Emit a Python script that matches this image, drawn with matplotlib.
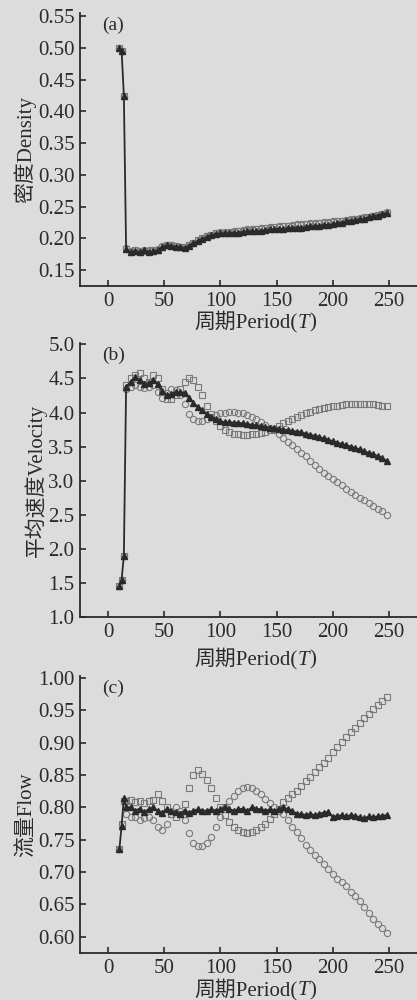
from matplotlib import pyplot as plt
from matplotlib.offsetbox import TextArea, HPacker, AnchoredOffsetbox
import numpy as np

# periods: first few steps, then every 4 periods
periods = [10, 12, 14] + list(range(16, 251, 4))

# (a) density
density_tri = [0.500, 0.495, 0.425,
               0.183, 0.178, 0.180, 0.178, 0.181, 0.179, 0.180, 0.181, 0.186, 0.189,
               0.188, 0.187, 0.186, 0.185, 0.188, 0.192, 0.196, 0.199, 0.202, 0.205,
               0.207, 0.208, 0.208, 0.208, 0.209, 0.209, 0.210, 0.211, 0.211, 0.211,
               0.212, 0.213, 0.214, 0.214, 0.215, 0.215, 0.216, 0.216, 0.217, 0.217,
               0.218, 0.219, 0.219, 0.220, 0.221, 0.221, 0.222, 0.224, 0.225, 0.227,
               0.228, 0.229, 0.230, 0.231, 0.233, 0.235, 0.236, 0.238, 0.240]
density_sq = [0.500, 0.495, 0.425,
              0.184, 0.179, 0.181, 0.179, 0.180, 0.180, 0.181, 0.182, 0.187, 0.190,
              0.189, 0.188, 0.186, 0.186, 0.189, 0.193, 0.197, 0.200, 0.203, 0.206,
              0.208, 0.209, 0.209, 0.209, 0.210, 0.211, 0.212, 0.213, 0.213, 0.214,
              0.215, 0.216, 0.217, 0.218, 0.218, 0.219, 0.219, 0.220, 0.221, 0.221,
              0.222, 0.223, 0.223, 0.224, 0.225, 0.225, 0.226, 0.227, 0.227, 0.228,
              0.229, 0.230, 0.231, 0.232, 0.234, 0.235, 0.237, 0.238, 0.240]
density_ci = [0.500, 0.495, 0.425,
              0.185, 0.180, 0.182, 0.180, 0.182, 0.181, 0.182, 0.183, 0.188, 0.190,
              0.190, 0.188, 0.187, 0.186, 0.189, 0.193, 0.197, 0.200, 0.203, 0.206,
              0.208, 0.210, 0.210, 0.210, 0.211, 0.212, 0.213, 0.214, 0.214, 0.215,
              0.216, 0.217, 0.218, 0.218, 0.219, 0.220, 0.220, 0.221, 0.222, 0.222,
              0.223, 0.224, 0.224, 0.225, 0.226, 0.226, 0.227, 0.227, 0.228, 0.229,
              0.230, 0.231, 0.232, 0.233, 0.234, 0.236, 0.237, 0.239, 0.241]

# (b) mean velocity
velocity_tri = [1.45, 1.55, 1.90,
                4.38, 4.45, 4.52, 4.47, 4.42, 4.43, 4.47, 4.42, 4.32, 4.25,
                4.27, 4.30, 4.30, 4.29, 4.22, 4.14, 4.08, 4.03, 3.98, 3.94,
                3.90, 3.87, 3.86, 3.86, 3.85, 3.85, 3.84, 3.83, 3.82, 3.81,
                3.80, 3.79, 3.78, 3.77, 3.76, 3.75, 3.74, 3.73, 3.72, 3.71,
                3.69, 3.67, 3.66, 3.64, 3.62, 3.60, 3.58, 3.56, 3.54, 3.52,
                3.50, 3.48, 3.46, 3.43, 3.41, 3.39, 3.36, 3.33, 3.29]
velocity_sq = [1.45, 1.55, 1.90,
               4.40, 4.50, 4.55, 4.58, 4.50, 4.45, 4.55, 4.50, 4.35, 4.20,
               4.20, 4.25, 4.35, 4.45, 4.50, 4.47, 4.38, 4.25, 4.10, 3.98,
               3.88, 3.80, 3.75, 3.71, 3.69, 3.68, 3.67, 3.67, 3.68, 3.69,
               3.70, 3.72, 3.74, 3.76, 3.80, 3.84, 3.87, 3.90, 3.93, 3.96,
               3.99, 4.01, 4.03, 4.05, 4.07, 4.08, 4.09, 4.10, 4.11, 4.12,
               4.12, 4.13, 4.13, 4.13, 4.12, 4.12, 4.11, 4.10, 4.09]
velocity_ci = [1.45, 1.55, 1.90,
               4.35, 4.38, 4.40, 4.38, 4.36, 4.38, 4.40, 4.30, 4.22, 4.28,
               4.35, 4.33, 4.25, 4.12, 3.98, 3.90, 3.87, 3.87, 3.90, 3.93,
               3.96, 3.99, 4.00, 4.01, 4.01, 4.00, 3.99, 3.97, 3.94, 3.90,
               3.86, 3.82, 3.78, 3.74, 3.68, 3.62, 3.57, 3.52, 3.47, 3.41,
               3.36, 3.29, 3.23, 3.17, 3.12, 3.07, 3.02, 2.98, 2.93, 2.88,
               2.84, 2.79, 2.75, 2.71, 2.67, 2.63, 2.59, 2.55, 2.50]

# (c) flow
flow_tri = [0.735, 0.772, 0.815,
            0.800, 0.800, 0.795, 0.798, 0.793, 0.797, 0.800, 0.795, 0.792, 0.797,
            0.795, 0.793, 0.790, 0.795, 0.792, 0.795, 0.797, 0.795, 0.795, 0.797,
            0.795, 0.797, 0.800, 0.797, 0.795, 0.797, 0.798, 0.795, 0.800, 0.798,
            0.797, 0.795, 0.797, 0.795, 0.797, 0.800, 0.797, 0.795, 0.790, 0.790,
            0.788, 0.790, 0.788, 0.790, 0.792, 0.793, 0.785, 0.787, 0.788, 0.786,
            0.788, 0.787, 0.785, 0.783, 0.786, 0.785, 0.786, 0.787, 0.788]
flow_sq = [0.735, 0.775, 0.810,
           0.810, 0.812, 0.808, 0.810, 0.806, 0.810, 0.812, 0.820, 0.810, 0.800,
           0.790, 0.785, 0.790, 0.805, 0.830, 0.850, 0.857, 0.852, 0.843, 0.830,
           0.815, 0.800, 0.788, 0.777, 0.770, 0.765, 0.762, 0.760, 0.762, 0.765,
           0.770, 0.775, 0.782, 0.790, 0.798, 0.808, 0.815, 0.820, 0.826, 0.833,
           0.840, 0.847, 0.854, 0.862, 0.869, 0.877, 0.885, 0.893, 0.901, 0.908,
           0.916, 0.923, 0.930, 0.938, 0.945, 0.952, 0.958, 0.964, 0.970]
flow_ci = [0.735, 0.775, 0.810,
           0.790, 0.785, 0.785, 0.780, 0.783, 0.785, 0.780, 0.770, 0.765, 0.775,
           0.790, 0.800, 0.795, 0.780, 0.760, 0.745, 0.740, 0.740, 0.745, 0.755,
           0.770, 0.785, 0.800, 0.810, 0.818, 0.825, 0.830, 0.832, 0.830, 0.826,
           0.820, 0.813, 0.806, 0.800, 0.795, 0.790, 0.780, 0.770, 0.762, 0.752,
           0.742, 0.734, 0.727, 0.720, 0.713, 0.705, 0.697, 0.690, 0.684, 0.678,
           0.670, 0.663, 0.655, 0.646, 0.637, 0.628, 0.620, 0.613, 0.606]

panels = [
    ('(a)', '密度Density', density_tri, density_sq, density_ci,
     (0.125, 0.555), np.arange(0.15, 0.551, 0.05), '{:.2f}'),
    ('(b)', '平均速度Velocity', velocity_tri, velocity_sq, velocity_ci,
     (1.0, 5.02), np.arange(1.0, 5.01, 0.5), '{:.1f}'),
    ('(c)', '流量Flow', flow_tri, flow_sq, flow_ci,
     (0.575, 1.003), np.arange(0.60, 1.001, 0.05), '{:.2f}'),
]

fams = ['Liberation Serif', 'Noto Sans CJK SC']
plt.rcParams['font.family'] = fams

bg = '#dcdcdc'
ink = '#2a2a2a'
grey = '#7a7a7a'

fig = plt.figure(figsize=(4.17, 10), dpi=100, facecolor=bg)
rects = [[0.192, 0.714, 0.808, 0.273],
         [0.192, 0.383, 0.808, 0.274],
         [0.192, 0.047, 0.808, 0.277]]
label_drop = [-0.09, -0.112, -0.092]

for rect, drop, (tag, ylab, tri, sq, ci, ylim, yticks, fmt) in zip(rects, label_drop, panels):
    ax = fig.add_axes(rect)
    ax.set_facecolor(bg)
    ax.plot(periods, sq, ls='none', marker='s', ms=4.5, mfc='none',
            mec=grey, mew=0.8)
    ax.plot(periods, ci, ls='none', marker='o', ms=4.5, mfc='none',
            mec=grey, mew=0.8)
    ax.plot(periods, tri, color=ink, lw=1.3, marker='^', ms=5,
            mfc=ink, mec=ink)
    ax.set_xlim(-25, 275)
    ax.set_ylim(*ylim)
    ax.set_xticks([0, 50, 100, 150, 200, 250])
    ax.set_yticks(yticks)
    ax.set_yticklabels([fmt.format(v) for v in yticks])
    for s in ['top', 'right']:
        ax.spines[s].set_visible(False)
    for s in ['left', 'bottom']:
        ax.spines[s].set_linewidth(1.3)
        ax.spines[s].set_color(ink)
    ax.tick_params(direction='in', length=4, width=1.2, colors=ink,
                   labelsize=15, pad=4)
    ax.set_ylabel(ylab, fontsize=15, color=ink, labelpad=1)

    # x label: 周期Period(T) with italic T
    tp = dict(fontsize=15, color=ink, family=fams)
    parts = [TextArea('周期Period(', textprops=tp),
             TextArea('T', textprops=dict(tp, style='italic')),
             TextArea(')', textprops=tp)]
    box = HPacker(children=parts, align='baseline', pad=0, sep=0)
    anchored = AnchoredOffsetbox(loc='upper center', child=box, pad=0,
                                 borderpad=0, frameon=False,
                                 bbox_to_anchor=(0.52, drop),
                                 bbox_transform=ax.transAxes)
    ax.add_artist(anchored)

    ax.text(0.065, 0.985, tag, transform=ax.transAxes, fontsize=14,
            color=ink, va='top', ha='left')

fig.savefig('out.png', dpi=100, facecolor=bg)
